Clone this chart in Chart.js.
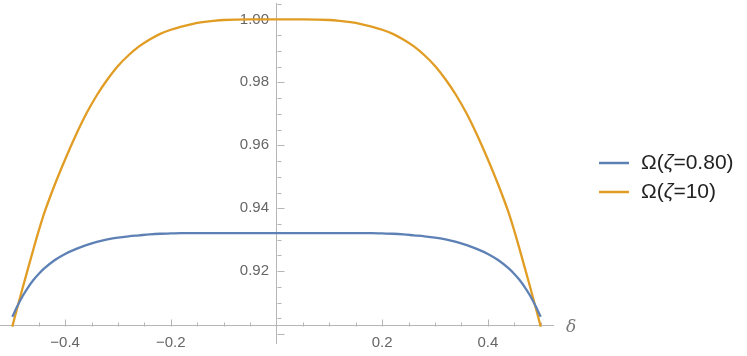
<!DOCTYPE html>
<html>
<head>
<meta charset="utf-8">
<script src="https://cdn.jsdelivr.net/npm/chart.js@4/dist/chart.umd.min.js"></script>
<style>
  html, body { margin: 0; padding: 0; background: #fff; }
  #wrap { width: 747px; height: 356px; }
</style>
</head>
<body>
<div id="wrap"><canvas id="chart"></canvas></div>
<script>
// delta values (horizontal axis)
const delta = [-0.5, -0.49, -0.48, -0.47, -0.46, -0.45, -0.44, -0.42, -0.40, -0.38, -0.36, -0.34, -0.32,
  -0.30, -0.28, -0.26, -0.24, -0.22, -0.20, -0.18, -0.16, -0.14, -0.12, -0.10, -0.05, 0,
  0.05, 0.10, 0.12, 0.14, 0.16, 0.18, 0.20, 0.22, 0.24, 0.26, 0.28, 0.30, 0.32, 0.34, 0.36,
  0.38, 0.40, 0.42, 0.44, 0.45, 0.46, 0.47, 0.48, 0.49, 0.5];

// Omega(zeta=0.80)
const omegaLow = [0.9055, 0.9090, 0.9122, 0.9149, 0.9172, 0.9191, 0.9208, 0.9235, 0.9255, 0.9270, 0.9283, 0.9293, 0.9301,
  0.9307, 0.9311, 0.9314, 0.9317, 0.9319, 0.9320, 0.9321, 0.9321, 0.9321, 0.9321, 0.9321, 0.9321, 0.9321,
  0.9321, 0.9321, 0.9321, 0.9321, 0.9321, 0.9321, 0.9320, 0.9319, 0.9317, 0.9314, 0.9311, 0.9307, 0.9301, 0.9293, 0.9283,
  0.9270, 0.9255, 0.9235, 0.9208, 0.9191, 0.9172, 0.9149, 0.9122, 0.9090, 0.9055];

// Omega(zeta=10)
const omegaHigh = [0.9024, 0.9087, 0.9149, 0.9210, 0.9270, 0.9328, 0.9382, 0.9473, 0.9555, 0.9631, 0.9700, 0.9759, 0.9809,
  0.9852, 0.9886, 0.9914, 0.9936, 0.9954, 0.9967, 0.9977, 0.9985, 0.9991, 0.9995, 0.9998, 1.0000, 1.0000,
  1.0000, 0.9998, 0.9995, 0.9991, 0.9985, 0.9977, 0.9967, 0.9954, 0.9936, 0.9914, 0.9886, 0.9852, 0.9809, 0.9759, 0.9700,
  0.9631, 0.9555, 0.9473, 0.9382, 0.9328, 0.9270, 0.9210, 0.9149, 0.9087, 0.9024];

const seriesLabels = ['Ω(ζ=0.80)', 'Ω(ζ=10)'];
const seriesColors = ['rgb(94,129,181)', 'rgb(225,156,36)'];

const xRange = [-0.5232, 0.5232];
const yRange = [0.8972, 1.0052];
const xAxisAt = 0.9027;   // where the horizontal axis crosses
const axisColor = '#b5b5b5';
const labelColor = '#666';
const tickFont = {family: '"Liberation Sans", Arial, sans-serif', size: 15};

function toPoints(ys) {
  return delta.map((d, i) => ({x: d, y: ys[i]}));
}

function fmt(v, digits) {
  return v.toFixed(digits).replace('-', '\u2212');
}

// keep the axes from pushing the plot area in
function noPad(scale) {
  scale.paddingLeft = 0;
  scale.paddingRight = 0;
  scale.paddingTop = 0;
  scale.paddingBottom = 0;
}

// Mathematica-like inward ticks, major and minor
const axisTicks = {
  id: 'axisTicks',
  beforeDatasetsDraw(chart) {
    const {ctx, scales: {x, y}} = chart;
    const x0 = Math.round(x.getPixelForValue(0)) + 0.5;
    const y0 = Math.round(y.getPixelForValue(xAxisAt)) + 0.5;
    ctx.save();
    ctx.strokeStyle = axisColor;
    ctx.lineWidth = 1;
    ctx.beginPath();
    for (let i = -10; i <= 10; i++) {
      if (i === 0) continue;
      const px = Math.round(x.getPixelForValue(i * 0.05)) + 0.5;
      const len = i % 4 === 0 ? 7 : 4;
      ctx.moveTo(px, y0);
      ctx.lineTo(px, y0 - len);
    }
    for (let i = 180; i <= 201; i++) {
      const py = Math.round(y.getPixelForValue(i * 0.005)) + 0.5;
      const len = i % 4 === 0 ? 7 : 4;
      ctx.moveTo(x0, py);
      ctx.lineTo(x0 + len, py);
    }
    ctx.stroke();

    // axis label
    ctx.fillStyle = '#777';
    ctx.font = 'italic 17px "DejaVu Serif", serif';
    ctx.textBaseline = 'middle';
    ctx.textAlign = 'left';
    ctx.fillText('δ', x.right + 13, y0 + 1);
    ctx.restore();
  }
};

const sideLegend = {
  id: 'sideLegend',
  afterDraw(chart) {
    const {ctx} = chart;
    const left = 599, top = 163, rowH = 29;
    const font = '21px "Liberation Sans", Arial, sans-serif';
    ctx.save();
    chart.data.datasets.forEach((ds, i) => {
      const yy = top + i * rowH;
      ctx.strokeStyle = ds.borderColor;
      ctx.lineWidth = 2.5;
      ctx.beginPath();
      ctx.moveTo(left, yy);
      ctx.lineTo(left + 30, yy);
      ctx.stroke();
      // split around zeta so it can be set in italic
      const parts = ds.label.split('ζ');
      let tx = left + 42;
      ctx.fillStyle = '#222';
      ctx.textBaseline = 'middle';
      ctx.font = font;
      ctx.fillText(parts[0], tx, yy);
      tx += ctx.measureText(parts[0]).width;
      ctx.font = 'italic ' + font;
      ctx.fillText('ζ', tx, yy);
      tx += ctx.measureText('ζ').width;
      ctx.font = font;
      ctx.fillText(parts[1], tx, yy);
    });
    ctx.restore();
  }
};

const ctx = document.getElementById('chart').getContext('2d');
const myChart = new Chart(ctx, {
  type: 'scatter',
  data: {
    datasets: [
      {
        label: seriesLabels[0],
        data: toPoints(omegaLow),
        borderColor: seriesColors[0],
        backgroundColor: seriesColors[0],
        borderWidth: 2.3,
        showLine: true,
        pointRadius: 0,
        cubicInterpolationMode: 'monotone'
      },
      {
        label: seriesLabels[1],
        data: toPoints(omegaHigh),
        borderColor: seriesColors[1],
        backgroundColor: seriesColors[1],
        borderWidth: 2.3,
        showLine: true,
        pointRadius: 0,
        cubicInterpolationMode: 'monotone'
      }
    ]
  },
  options: {
    responsive: true,
    maintainAspectRatio: false,
    animation: false,
    layout: {
      padding: {left: 0, right: 194, top: 3, bottom: 13}
    },
    plugins: {
      legend: {display: false},
      tooltip: {enabled: false}
    },
    scales: {
      x: {
        type: 'linear',
        min: xRange[0],
        max: xRange[1],
        position: {y: xAxisAt},
        afterFit: noPad,
        grid: {drawOnChartArea: false, drawTicks: false},
        border: {display: true, color: axisColor, width: 1},
        ticks: {
          stepSize: 0.2,
          includeBounds: false,
          padding: 8,
          color: labelColor,
          font: tickFont,
          callback: (v) => Math.abs(v) < 1e-9 ? '' : fmt(v, 1)
        }
      },
      y: {
        type: 'linear',
        min: yRange[0],
        max: yRange[1],
        position: {x: 0},
        afterFit: noPad,
        grid: {drawOnChartArea: false, drawTicks: false},
        border: {display: true, color: axisColor, width: 1},
        ticks: {
          stepSize: 0.02,
          includeBounds: false,
          color: labelColor,
          font: tickFont,
          // labels sit right against a floating axis, so leave a small gap
          callback: (v) => v < 0.91 ? '' : fmt(v, 2) + '\u2002'
        }
      }
    }
  },
  plugins: [axisTicks, sideLegend]
});
</script>
</body>
</html>
